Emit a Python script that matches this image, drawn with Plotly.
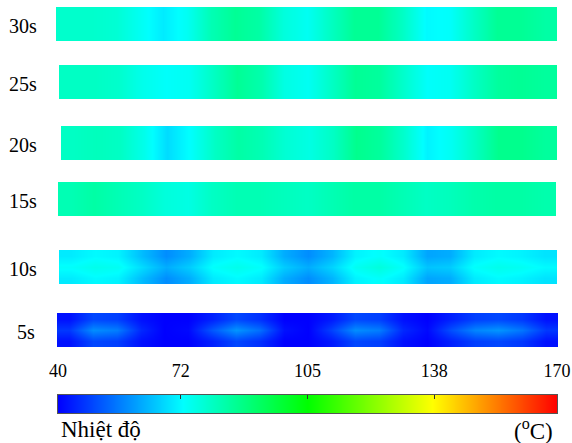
import plotly.graph_objects as go

# ---------------- data ----------------
positions = [0.00, 0.05, 0.10, 0.15, 0.20, 0.25, 0.30, 0.35, 0.40, 0.45, 0.50,
             0.55, 0.60, 0.65, 0.70, 0.75, 0.80, 0.85, 0.90, 0.95, 1.00]

time_labels = ["30s", "25s", "20s", "15s", "10s", "5s"]

t30_centre = [79, 79, 78, 74, 70, 74, 82, 86, 84, 77, 74, 80, 86, 86, 80, 72, 73, 80, 86, 86, 84]
t30_edge = t30_centre
t25_centre = [80, 80, 79, 75, 73, 74, 80, 86, 83, 76, 74, 80, 86, 85, 79, 73, 74, 80, 85, 86, 85]
t25_edge = t25_centre
t20_centre = [80, 81, 80, 75, 68, 73, 80, 84, 82, 78, 76, 80, 87, 85, 79, 71, 74, 80, 87, 87, 85]
t20_edge = t20_centre
t15_centre = [82, 84, 82, 80, 77, 76, 80, 82, 82, 81, 80, 82, 84, 84, 82, 80, 81, 83, 84, 84, 83]
t15_edge = t15_centre
t10_centre = [73, 75, 74, 68, 62, 66, 73, 75, 73, 66, 62, 67, 74, 77, 73, 65, 66, 73, 75, 74, 72]
t10_edge = [70, 72, 71, 64, 58, 62, 70, 72, 70, 62, 58, 63, 71, 73, 70, 61, 62, 70, 72, 71, 69]
t5_centre = [47, 58, 56, 45, 40, 41, 51, 59, 54, 42, 40, 48, 58, 56, 45, 41, 50, 57, 59, 55, 47]
t5_edge = [42, 49, 48, 42, 40, 40, 44, 49, 46, 40, 40, 43, 49, 48, 42, 40, 44, 48, 49, 47, 42]

centres = [t30_centre, t25_centre, t20_centre, t15_centre, t10_centre, t5_centre]
edges = [t30_edge, t25_edge, t20_edge, t15_edge, t10_edge, t5_edge]

scale_min = 40
scale_max = 170
scale_ticks = [40, 72, 105, 138, 170]
scale_ticktext = ["40", "72", "105", "138", "170"]

# ---------------- styling / layout ----------------
W, H = 572, 443
colorscale = [[0.0, "rgb(0,0,255)"], [0.25, "rgb(0,255,255)"], [0.5, "rgb(0,255,0)"],
              [0.75, "rgb(255,255,0)"], [1.0, "rgb(255,0,0)"]]
FONT = "Liberation Serif, Times New Roman, serif"

# pixel boxes of strips in the 572x443 picture: (x0, x1, y0, y1)
boxes = [(56, 557, 7, 41), (59, 557, 65, 99), (61, 557, 126, 160),
         (58, 556, 182, 216), (59, 557, 250, 284), (57, 558, 313, 347)]
label_x = [7, 7, 7, 7, 7, 15]

def px_x(v):
    return min(max(v / W, 0), 1)

def px_y(v):
    return min(max(1 - v / H, 0), 1)

fig = go.Figure()
layout = dict(template="none", width=W, height=H, margin=dict(l=0, r=0, t=0, b=0, pad=0),
              paper_bgcolor="white", plot_bgcolor="white", showlegend=False)
annotations = []

for i, (c, e) in enumerate(zip(centres, edges)):
    n = i + 1
    xa = "x" if n == 1 else f"x{n}"
    ya = "y" if n == 1 else f"y{n}"
    fig.add_trace(go.Heatmap(
        z=[e, c, e], x=positions, y=[0, 1, 2],
        zmin=scale_min, zmax=scale_max, colorscale=colorscale,
        zsmooth="best", showscale=False, hoverinfo="skip",
        xaxis=xa, yaxis=ya))
    x0, x1, y0, y1 = boxes[i]
    layout["xaxis" if n == 1 else f"xaxis{n}"] = dict(
        domain=[px_x(x0), px_x(x1)], range=[-0.025, 1.025], visible=False,
        anchor=ya, fixedrange=True, automargin=False)
    layout["yaxis" if n == 1 else f"yaxis{n}"] = dict(
        domain=[px_y(y1), px_y(y0)], range=[-0.5, 2.5], visible=False,
        anchor=xa, fixedrange=True, automargin=False)
    annotations.append(dict(
        text=time_labels[i], xref="paper", yref="paper",
        x=px_x(label_x[i]), y=px_y((y0 + y1) / 2 + 2),
        xanchor="left", yanchor="middle", showarrow=False,
        font=dict(family=FONT, size=20, color="black")))

# colour scale bar drawn as a heatmap spanning the scale limits
fig.add_trace(go.Heatmap(
    z=[[scale_min, scale_max]], x=[scale_min, scale_max], y=[0],
    zmin=scale_min, zmax=scale_max, colorscale=colorscale,
    zsmooth="best", showscale=False, hoverinfo="skip",
    xaxis="x7", yaxis="y7"))
layout["xaxis7"] = dict(
    domain=[px_x(58), px_x(557)], range=[scale_min, scale_max],
    side="top", tickvals=scale_ticks, ticktext=scale_ticktext,
    ticks="inside", ticklen=4, tickcolor="#333", tickwidth=1,
    ticklabelstandoff=10, ticklabeloverflow="allow",
    showline=True, linecolor="#555", linewidth=1, mirror=True,
    showgrid=False, zeroline=False, anchor="y7", fixedrange=True, automargin=False,
    tickfont=dict(family=FONT, size=18, color="black"))
layout["yaxis7"] = dict(
    domain=[px_y(413), px_y(395)], range=[-0.5, 0.5], showticklabels=False,
    ticks="", showgrid=False, zeroline=False,
    showline=True, linecolor="#555", linewidth=1, mirror=True,
    anchor="x7", fixedrange=True, automargin=False)

annotations.append(dict(
    text="Nhiệt độ", xref="paper", yref="paper", x=px_x(59), y=px_y(429),
    xanchor="left", yanchor="middle", showarrow=False,
    font=dict(family=FONT, size=23, color="black")))
annotations.append(dict(
    text="(<sup>o</sup>C)", xref="paper", yref="paper", x=px_x(555), y=px_y(429),
    xanchor="right", yanchor="middle", showarrow=False,
    font=dict(family=FONT, size=23, color="black")))

layout["annotations"] = annotations
fig.update_layout(**layout)
fig.write_html(
    "out.html",
    config={"displayModeBar": False},
    post_script="document.body.style.margin='0px';document.body.style.overflow='hidden';")
